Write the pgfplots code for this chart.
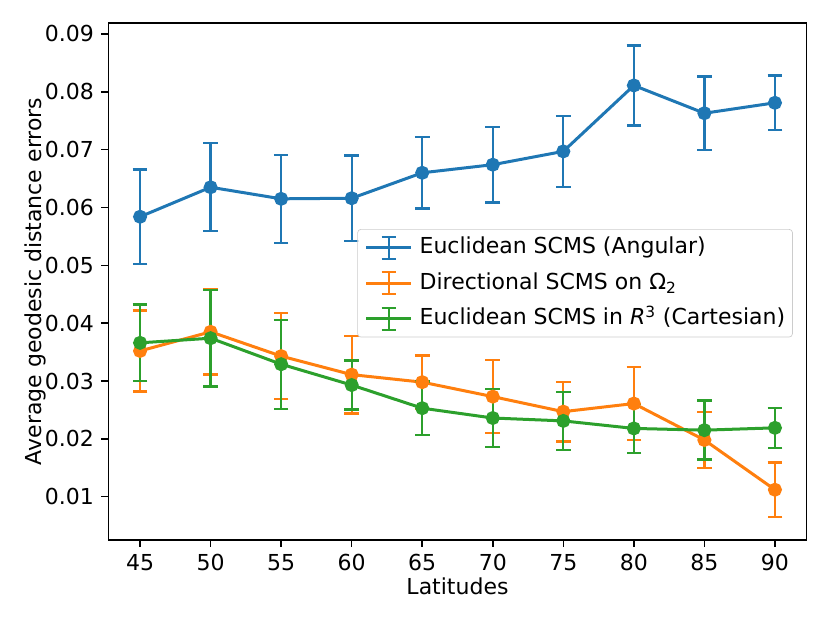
\documentclass[border=0pt]{standalone}
\usepackage{pgfplots}
\pgfplotsset{compat=1.18}
\usepackage{fontspec}
\setmainfont{DejaVu Sans}
\definecolor{c0}{HTML}{1F77B4}
\definecolor{c1}{HTML}{FF7F0E}
\definecolor{c2}{HTML}{2CA02C}
\pgfplotsset{
  ebleg/.style={legend image code/.code={
    \draw[#1, line width=1.8pt, mark=none] (0pt,0pt) -- (27pt,0pt);
    \draw[#1, overlay, line width=1.4pt, mark=none] (13.5pt,-6.6pt) -- (13.5pt,6.6pt);
    \draw[#1, overlay, line width=1.4pt, mark=none] (9.1pt,-6.6pt) -- (17.9pt,-6.6pt);
    \draw[#1, overlay, line width=1.4pt, mark=none] (9.1pt,6.6pt) -- (17.9pt,6.6pt);
  }},
  ebstyle/.style={line width=1.8pt, mark=*, mark size=3.3pt, mark options={solid},
    error bars/y dir=both, error bars/y explicit, error bars/error mark=-,
    error bars/error bar style={line width=1.4pt},
    error bars/error mark options={line width=1.4pt, mark size=4.4pt, rotate=90}},
}
\begin{document}
\fontsize{13.2}{15.8}\selectfont
\begin{tikzpicture}
\useasboundingbox (-65pt,-49.8pt) rectangle (433pt,324pt);
\begin{axis}[
  scale only axis, width=419pt, height=310.2pt,
  xmin=42.75, xmax=92.25, ymin=0.00251, ymax=0.0919,
  xtick={45,50,...,90},
  ytick={0.01,0.02,0.03,0.04,0.05,0.06,0.07,0.08,0.09},
  scaled y ticks=false,
  yticklabel style={/pgf/number format/.cd, fixed, fixed zerofill, precision=2},
  /pgf/number format/assume math mode=true,
  tick align=outside, major tick length=4.1pt,
  tick style={black, line width=0.95pt},
  axis line style={line width=0.95pt},
  xtick pos=bottom, ytick pos=left,
  font=\fontsize{13.2}{15.8}\selectfont,
  xlabel={Latitudes},
  ylabel={Average geodesic distance errors},
  xlabel style={at={(axis description cs:0.5,-0.1051)}, anchor=base},
  ylabel style={at={(axis description cs:-0.105,0.5)}, anchor=center},
  legend cell align=left,
  legend style={at={(0.3565,0.6015)}, anchor=north west,
    draw=black!20, rounded corners=2pt, fill=white, fill opacity=0.8, text opacity=1,
    font=\fontsize{13.2}{15.8}\selectfont, row sep=8.3pt,
    inner xsep=4.4pt, inner ysep=4.5pt,
    nodes={inner sep=0pt, text height=10pt, text depth=3pt},
    /tikz/every odd column/.append style={column sep=4pt},
    /tikz/every even column/.append style={column sep=6pt}},
]
\addplot[c0, ebleg, ebstyle] coordinates {
 (45,0.0584) +- (0,0.00815)
 (50,0.0635) +- (0,0.0076)
 (55,0.0615) +- (0,0.0076)
 (60,0.0616) +- (0,0.0074)
 (65,0.0660) +- (0,0.0062)
 (70,0.0674) +- (0,0.00655)
 (75,0.0697) +- (0,0.0061)
 (80,0.0811) +- (0,0.0069)
 (85,0.0763) +- (0,0.00635)
 (90,0.0781) +- (0,0.0047)
};
\addlegendentry{Euclidean SCMS (Angular)}
\addplot[c1, ebleg, ebstyle] coordinates {
 (45,0.0352) +- (0,0.0070)
 (50,0.0385) +- (0,0.0074)
 (55,0.0343) +- (0,0.0074)
 (60,0.0311) +- (0,0.0067)
 (65,0.0298) +- (0,0.0046)
 (70,0.0273) +- (0,0.0063)
 (75,0.0247) +- (0,0.00515)
 (80,0.0261) +- (0,0.0063)
 (85,0.0198) +- (0,0.0048)
 (90,0.0112) +- (0,0.0047)
};
\addlegendentry{Directional SCMS on Ω\textsubscript{2}}
\addplot[c2, ebleg, ebstyle] coordinates {
 (45,0.0366) +- (0,0.00665)
 (50,0.0374) +- (0,0.00835)
 (55,0.0329) +- (0,0.0077)
 (60,0.0293) +- (0,0.00425)
 (65,0.0253) +- (0,0.0046)
 (70,0.0236) +- (0,0.0050)
 (75,0.0231) +- (0,0.0050)
 (80,0.0218) +- (0,0.00425)
 (85,0.0215) +- (0,0.0051)
 (90,0.0219) +- (0,0.00345)
};
\addlegendentry{Euclidean SCMS in \textit{R}\textsuperscript{3} (Cartesian)}
\end{axis}
\end{tikzpicture}
\end{document}
